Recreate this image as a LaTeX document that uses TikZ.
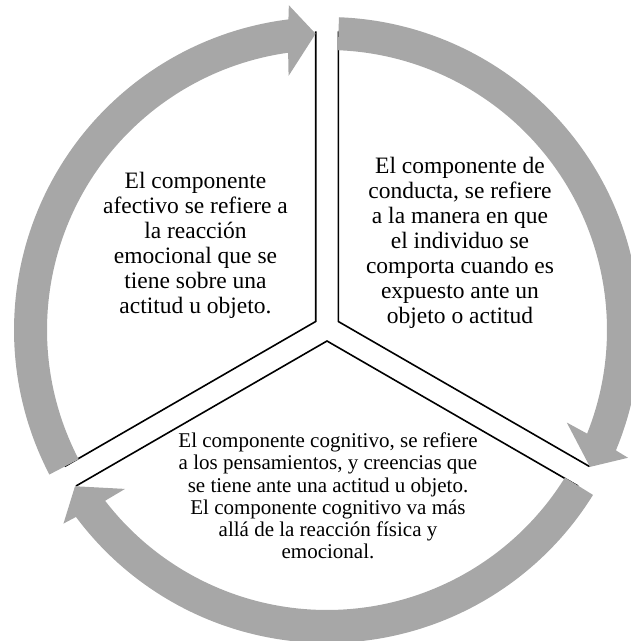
\documentclass[tikz,border=0pt]{standalone}
\usepackage{fontspec}
\setmainfont{Liberation Serif}
\definecolor{ringgray}{RGB}{167,167,167}
\newcommand\arrowseg[2]{%
  \fill[ringgray] (#1:313) arc[start angle=#1, end angle={#2+4.88}, radius=313]
    -- ({#2+4.5}:327) -- (#2:296.5) -- ({#2+6.4}:257) -- ({#2+5.78}:280)
    arc[start angle={#2+5.78}, end angle=#1, radius=280] -- cycle;}
\begin{document}
\begin{tikzpicture}[x=1pt,y=1pt,
  edge/.style={line width=1.6pt, black},
  txtA/.style={align=center, font=\fontsize{23.5}{25}\selectfont, inner sep=0pt},
  txtB/.style={align=center, font=\fontsize{21}{22.2}\selectfont, inner sep=0pt}]
\useasboundingbox (0,0) rectangle (631,641);
\clip (0,0) rectangle (631,641);
% sector vertices and edge ends
\coordinate (vTR) at (338.3,319.5);
\coordinate (vTL) at (315.7,319.5);
\coordinate (vB) at (327,300);
\coordinate (eTRup) at (338.3,609.5);
\coordinate (eTRdn) at (589.5,174.5);
\coordinate (eTLup) at (315.7,609.5);
\coordinate (eTLdn) at (64.7,174.5);
\coordinate (eBr) at (578,155);
\coordinate (eBl) at (76,155);
\draw[edge] (eTRup) -- (vTR) -- (eTRdn);
\draw[edge] (eTLup) -- (vTL) -- (eTLdn);
\draw[edge] (eBr) -- (vB) -- (eBl);
% circular arrows
\begin{scope}[shift={(327,311)}]
  \arrowseg{87.8}{-27.5}
  \arrowseg{-31.8}{-148.2}
  \arrowseg{207.5}{92.2}
\end{scope}
% texts
\node[txtA] (affect) at (195.5,396) {El componente\\afectivo se refiere a\\la reacción\\emocional que se\\tiene sobre una\\actitud u objeto.};
\node[txtA] (conduct) at (460,398) {El componente de\\conducta, se refiere\\a la manera en que\\el individuo se\\comporta cuando es\\expuesto ante un\\objeto o actitud};
\node[txtB] (cognit) at (328,145) {El componente cognitivo, se refiere\\a los pensamientos, y creencias que\\se tiene ante una actitud u objeto.\\El componente cognitivo va más\\allá de la reacción física y\\emocional.};
\end{tikzpicture}
\end{document}
